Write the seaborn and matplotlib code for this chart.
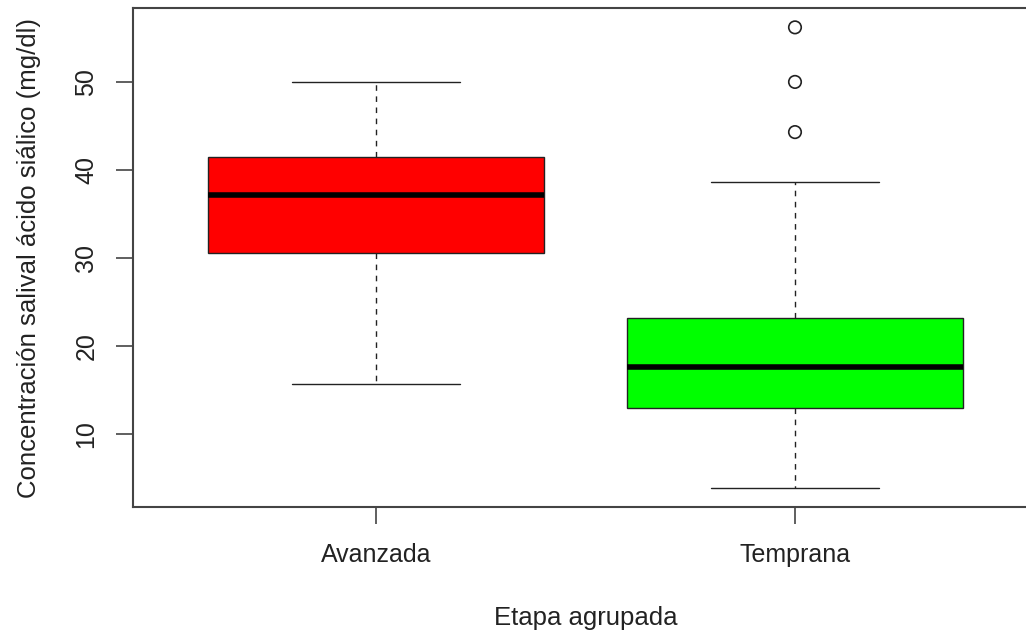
"""Boxplot of salivary sialic acid by grouped stage (R base-graphics look)."""

import numpy as np
import pandas as pd
import matplotlib
matplotlib.use("Agg")
import matplotlib.pyplot as plt
import seaborn as sns

# Values: lower whisker, Q1, median, Q3, upper whisker
groups = ["Avanzada", "Temprana"]
avanzada_stats = [15.7, 30.6, 37.1, 41.5, 50.0]
temprana_stats = [3.9, 12.9, 17.6, 23.2, 38.6]
temprana_outliers = [44.3, 50.0, 56.2]
box_colors = ["#FF0000", "#00FF00"]
y_ticks = [10, 20, 30, 40, 50]

x_label = "Etapa agrupada"
y_label = "Concentración salival ácido siálico (mg/dl)"

# long-form table built from the summaries above
df = pd.DataFrame({
    "etapa": [groups[0]] * len(avanzada_stats) + [groups[1]] * len(temprana_stats),
    "valor": avanzada_stats + temprana_stats,
})
out_df = pd.DataFrame({"etapa": [groups[1]] * len(temprana_outliers),
                       "valor": temprana_outliers})

sns.set_style("white")
plt.rcParams["font.family"] = ["Liberation Sans", "DejaVu Sans"]
frame_color = "#444444"

fig = plt.figure(figsize=(10.26, 6.32), dpi=100)
ax = fig.add_axes([133 / 1026, 1 - 507 / 632, 905 / 1026, 499 / 632])

sns.boxplot(
    data=df, x="etapa", y="valor", hue="etapa",
    order=groups, hue_order=groups, palette=box_colors, saturation=1,
    width=0.8, whis=np.inf, linecolor="black", linewidth=1.0,
    legend=False, ax=ax,
    boxprops={"edgecolor": "#222222", "linewidth": 1.0},
    whiskerprops={"linestyle": (0, (4, 4)), "linewidth": 1.0, "color": "#222222"},
    capprops={"linewidth": 1.0, "color": "#222222"},
    medianprops={"linewidth": 4.0, "color": "black"},
)

sns.stripplot(data=out_df, x="etapa", y="valor", order=groups,
              jitter=False, color="black", size=9, ax=ax)
pts = ax.collections[-1]
pts.set_facecolor("none")
pts.set_edgecolor("#222222")
pts.set_linewidth(1.2)

ax.set_xlim(-0.58, 1.58)
ax.set_ylim(1.7, 58.4)
ax.set_yticks(y_ticks)
ax.set_xticks(range(len(groups)))
ax.set_xticklabels(groups)

for side in ["left", "right", "top", "bottom"]:
    ax.spines[side].set_visible(True)
    ax.spines[side].set_color(frame_color)
    ax.spines[side].set_linewidth(1.5)

ax.tick_params(axis="both", which="major", direction="out", length=12,
               width=1.2, color=frame_color, labelsize=18, labelcolor="#222222",
               left=True, bottom=True)
ax.tick_params(axis="y", pad=13, labelrotation=90)
ax.tick_params(axis="x", pad=14)
for lab in ax.get_yticklabels():
    lab.set_va("center")

ax.set_xlabel(x_label, fontsize=18.5, color="#222222", labelpad=28)
ax.set_ylabel(y_label, fontsize=18.5, color="#222222", labelpad=24)

fig.savefig("out.png", dpi=100)
